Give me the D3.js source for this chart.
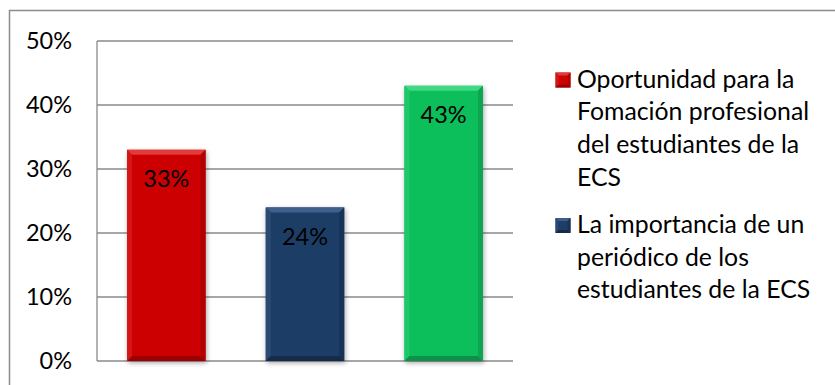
<!DOCTYPE html>
<html>
<head>
<meta charset="utf-8">
<script src="https://cdnjs.cloudflare.com/ajax/libs/d3/7.8.5/d3.min.js"></script>
<style>
  html, body { margin: 0; padding: 0; background: #fff; }
  svg { display: block; }
  text { font-family: Lato, "Open Sans", sans-serif; fill: #000; }
</style>
</head>
<body>
<svg id="chart" width="835" height="385"></svg>
<script>
// Share of responses per option
const values = [0.33, 0.24, 0.43];
const barFaces = ["#cc0404", "#1f3d66", "#0cbf5a"];
const barLight = ["#e23a3a", "#3d5f8c", "#3fd884"];
const barDark  = ["#9c0202", "#142a48", "#07904a"];
const valueLabels = ["33%", "24%", "43%"];
const yTicks = [0, 0.1, 0.2, 0.3, 0.4, 0.5];
const yTickLabels = ["0%", "10%", "20%", "30%", "40%", "50%"];
// Legend entries, each already broken into lines
const legendLines = [
  ["Oportunidad para la", "Fomación profesional", "del estudiantes de la", "ECS"],
  ["La importancia de un", "periódico de los", "estudiantes de la ECS"]
];

const svg = d3.select("#chart");
const defs = svg.append("defs");

const shadow = defs.append("filter").attr("id", "barShadow")
  .attr("x", "-30%").attr("y", "-20%").attr("width", "160%").attr("height", "140%");
shadow.append("feGaussianBlur").attr("in", "SourceAlpha").attr("stdDeviation", 2.5).attr("result", "b");
shadow.append("feOffset").attr("in", "b").attr("dx", 1).attr("dy", 2).attr("result", "o");
shadow.append("feComponentTransfer").attr("in", "o").attr("result", "s")
  .append("feFuncA").attr("type", "linear").attr("slope", 0.35);
const merge = shadow.append("feMerge");
merge.append("feMergeNode").attr("in", "s");
merge.append("feMergeNode").attr("in", "SourceGraphic");

// Outer chart frame (runs off the right and bottom edges)
svg.append("rect")
  .attr("x", 9.5).attr("y", 10.5).attr("width", 840).attr("height", 390)
  .attr("fill", "none").attr("stroke", "#8c8c8c").attr("stroke-width", 1.5);

const plot = { left: 97, right: 513, top: 41, bottom: 361 };

const x = d3.scaleBand()
  .domain(d3.range(values.length))
  .range([plot.left, plot.right])
  .paddingInner(0.434)
  .paddingOuter(0.217);

const y = d3.scaleLinear().domain([0, 0.5]).range([plot.bottom, plot.top]);

// Horizontal gridlines
svg.append("g").selectAll("line").data(yTicks).join("line")
  .attr("x1", plot.left).attr("x2", plot.right)
  .attr("y1", d => y(d)).attr("y2", d => y(d))
  .attr("stroke", "#8a8a8a").attr("stroke-width", 1.3);

// Vertical value axis
svg.append("line")
  .attr("x1", plot.left).attr("x2", plot.left)
  .attr("y1", y(0.5)).attr("y2", y(0))
  .attr("stroke", "#8a8a8a").attr("stroke-width", 1.3);

// Tick labels
svg.append("g").selectAll("text").data(yTicks).join("text")
  .attr("x", 72).attr("y", d => y(d) + 7.5)
  .attr("text-anchor", "end")
  .attr("font-size", 23.5)
  .text((d, i) => yTickLabels[i]);

// Bevelled bar: face plus four edge facets
function bevel(g, x0, y0, w, h, face, light, dark, b) {
  const x1 = x0 + w, y1 = y0 + h;
  g.append("rect").attr("x", x0).attr("y", y0).attr("width", w).attr("height", h).attr("fill", face);
  const poly = (pts, c) => g.append("polygon").attr("points", pts.map(p => p.join(",")).join(" ")).attr("fill", c);
  poly([[x0, y0], [x1, y0], [x1 - b, y0 + b], [x0 + b, y0 + b]], light);
  poly([[x0, y0], [x0 + b, y0 + b], [x0 + b, y1 - b], [x0, y1]], d3.interpolateRgb(face, light)(0.35));
  poly([[x1, y0], [x1, y1], [x1 - b, y1 - b], [x1 - b, y0 + b]], d3.interpolateRgb(face, dark)(0.55));
  poly([[x0, y1], [x0 + b, y1 - b], [x1 - b, y1 - b], [x1, y1]], dark);
}

const bars = svg.append("g");
values.forEach((v, i) => {
  const g = bars.append("g").attr("filter", "url(#barShadow)");
  bevel(g, x(i), y(v), x.bandwidth(), y(0) - y(v), barFaces[i], barLight[i], barDark[i], 5);
});

// Value labels inside the bars
svg.append("g").selectAll("text").data(values).join("text")
  .attr("x", (d, i) => x(i) + x.bandwidth() / 2)
  .attr("y", d => y(d) + 37.5)
  .attr("text-anchor", "middle")
  .attr("font-size", 23.5)
  .text((d, i) => valueLabels[i]);

// Legend
const legend = svg.append("g");
const legendTops = [87.5, 233];
const lineStep = 32.7;
legendLines.forEach((lines, i) => {
  const base = legendTops[i];
  const sq = legend.append("g");
  bevel(sq, 555.5, base - 15, 15, 15, barFaces[i], barLight[i], barDark[i], 3);
  const t = legend.append("text").attr("x", 577).attr("y", base).attr("font-size", 24.8);
  lines.forEach((s, k) => {
    t.append("tspan").attr("x", 577).attr("y", base + k * lineStep).text(s);
  });
});
</script>
</body>
</html>
